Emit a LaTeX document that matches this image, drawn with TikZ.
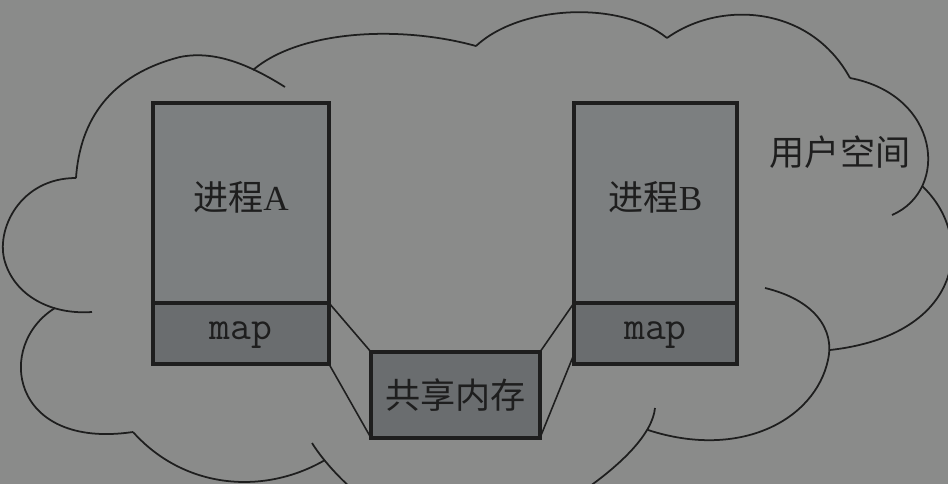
\documentclass[tikz,border=0pt]{standalone}
\usepackage{fontspec}
\setmainfont{Liberation Serif}
\newfontfamily\cjk{Noto Sans CJK SC}
\usetikzlibrary{calc,positioning}
\definecolor{bggray}{RGB}{138,139,138}
\definecolor{procgray}{RGB}{124,127,128}
\definecolor{mapgray}{RGB}{106,109,111}
\definecolor{linegray}{RGB}{30,30,30}
\definecolor{textgray}{RGB}{30,30,30}
\tikzset{%
	procbox/.style  = {draw=linegray, line width=1.8pt, fill=procgray, rectangle, outer sep=0pt, minimum height=4cm, text depth=0.28cm, text centered, text=textgray, font=\fontsize{20}{24}\selectfont},
	mapbox/.style   = {draw=linegray, line width=1.8pt, fill=mapgray, rectangle, outer sep=0pt, minimum height=1.22cm, text depth=0.1cm, text centered, text=textgray, font=\ttfamily\fontsize{23}{26}\selectfont},
	shmbox/.style   = {draw=linegray, line width=1.8pt, fill=mapgray, rectangle, outer sep=0pt, minimum width=3.38cm, minimum height=1.72cm, text centered, text=textgray, font=\cjk\fontsize{20}{24}\selectfont},
	link/.style     = {draw=linegray, line width=0.9pt},
	cloudline/.style= {draw=linegray, line width=1pt},
}

\begin{document}
\begin{tikzpicture}[x=0.02cm, y=-0.02cm]
	\useasboundingbox (0,0) rectangle (948,484);
	\clip (0,0) rectangle (948,484);
	\fill[bggray] (0,0) rectangle (948,484);
	
	% user space cloud, one arc per lobe
	\draw[cloudline] (76,178) .. controls (20,178) and (-5,230) .. (5,262) .. controls (15,295) and (50,315) .. (92,312);
	\draw[cloudline] (76,178) .. controls (80,120) and (110,75) .. (180,57) .. controls (215,50) and (250,65) .. (285,87);
	\draw[cloudline] (253,70) .. controls (300,30) and (400,25) .. (476,46);
	\draw[cloudline] (476,46) .. controls (520,5) and (620,0) .. (667,38);
	\draw[cloudline] (667,38) .. controls (720,0) and (810,5) .. (850,78);
	\draw[cloudline] (850,78) .. controls (940,95) and (950,190) .. (892,215);
	\draw[cloudline] (922,186) .. controls (975,235) and (965,335) .. (830,350);
	\draw[cloudline] (765,288) .. controls (815,300) and (835,330) .. (828,360) .. controls (815,420) and (740,460) .. (648,430);
	\draw[cloudline] (655,408) .. controls (650,460) and (530,530) .. (470,550);
	\draw[cloudline] (312,443) .. controls (335,480) and (400,540) .. (470,550);
	\draw[cloudline] (133,432) .. controls (185,490) and (265,495) .. (325,460);
	\draw[cloudline] (55,308) .. controls (-5,345) and (10,450) .. (133,432);
	\node[text=textgray, font=\cjk\fontsize{20}{24}\selectfont] (user) at (840,152) {用户空间};
	
	% processes
	\node[procbox, minimum width=3.52cm, anchor=north west] (procA) at (153,103) {{\cjk 进程}A};
	\node[mapbox, minimum width=3.52cm, below=0pt of procA] (mapA) {map};
	\node[procbox, minimum width=3.26cm, anchor=north west] (procB) at (574,103) {{\cjk 进程}B};
	\node[mapbox, minimum width=3.26cm, below=0pt of procB] (mapB) {map};
	\node[shmbox, anchor=north west] (shm) at (371,352) {共享内存};
	
	\draw[link] (mapA.north east) -- (shm.north west);
	\draw[link] (mapA.south east) -- (shm.south west);
	\draw[link] (mapB.north west) -- (shm.north east);
	\draw[link] ($(mapB.south west)!0.16!(mapB.north west)$) -- (shm.south east);
\end{tikzpicture}
\end{document}
